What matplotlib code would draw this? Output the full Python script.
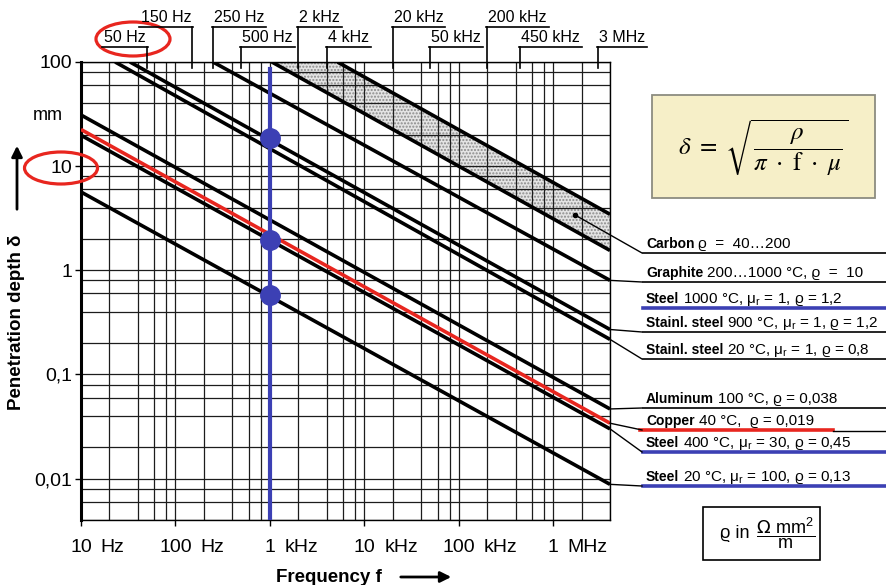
import matplotlib
matplotlib.use('Agg')
import matplotlib.pyplot as plt
from matplotlib.lines import Line2D
from matplotlib.patches import Ellipse, Rectangle
from matplotlib.ticker import LogLocator, NullFormatter

plt.rcParams['font.family'] = ['Liberation Sans', 'DejaVu Sans']

# material lines, start and end point (frequency in Hz, depth in mm)
materials = ['Carbon rho=200', 'Carbon rho=40', 'Graphite', 'Steel 1000 / Stainl. 900',
             'Stainl. steel 20', 'Aluminum', 'Copper', 'Steel 400', 'Steel 20']
start_f = [5200, 1050, 250, 33, 23, 10, 10, 10, 10]
start_d = [100, 100, 100, 100, 100, 31, 22.5, 19.8, 5.65]
end_f = [4e6, 4e6, 4e6, 4e6, 4e6, 4e6, 4e6, 4e6, 4e6]
end_d = [3.45, 1.55, 0.80, 0.27, 0.217, 0.0466, 0.034, 0.030, 0.0088]

# marked frequency 1 kHz and the three points on it
mark_f = 1000
mark_top = 85
dot_d = [18.5, 1.95, 0.58]
carbon_dot = (1.7e6, 3.4)

# axis labels
x_ticks = [10, 100, 1e3, 1e4, 1e5, 1e6]
x_nums = ['10', '100', '1', '10', '100', '1']
x_units = ['Hz', 'Hz', 'kHz', 'kHz', 'kHz', 'MHz']
y_ticks = [100, 10, 1, 0.1, 0.01]
y_labels = ['100', '10', '1', '0,1', '0,01']

top_f = [50, 150, 250, 500, 2000, 4000, 20000, 50000, 200000, 450000, 3e6]
top_text = ['50 Hz', '150 Hz', '250 Hz', '500 Hz', '2 kHz', '4 kHz',
            '20 kHz', '50 kHz', '200 kHz', '450 kHz', '3 MHz']
top_row = [1, 0, 0, 1, 0, 1, 0, 1, 0, 1, 1]

label_bold = ['Carbon', 'Graphite', 'Steel', 'Stainl. steel', 'Stainl. steel',
              'Aluminum', 'Copper', 'Steel', 'Steel']
label_rest = ['ϱ  =  40…200',
              '200…1000 °C, ϱ  =  10',
              '1000 °C, μ$_{\\mathregular{r}}$ = 1, ϱ = 1,2',
              '900 °C, μ$_{\\mathregular{r}}$ = 1, ϱ = 1,2',
              '20 °C, μ$_{\\mathregular{r}}$ = 1, ϱ = 0,8',
              '100 °C, ϱ = 0,038',
              '40 °C,  ϱ = 0,019',
              '400 °C, μ$_{\\mathregular{r}}$ = 30, ϱ = 0,45',
              '20 °C, μ$_{\\mathregular{r}}$ = 100, ϱ = 0,13']

W, H = 886, 585
BLUE = '#3c40b4'
RED = '#e8261f'

fig = plt.figure(figsize=(W / 100, H / 100), dpi=100)
ax = fig.add_axes([81 / W, 1 - 520 / H, (610 - 81) / W, (520 - 62) / H])
ax.set_xscale('log')
ax.set_yscale('log')
ax.set_xlim(10, 4e6)
ax.set_ylim(0.004, 100)

ax.xaxis.set_major_locator(LogLocator(base=10, numticks=20))
ax.xaxis.set_minor_locator(LogLocator(base=10, subs=(2, 4, 6, 8), numticks=20))
ax.yaxis.set_minor_locator(LogLocator(base=10, subs=(2, 4, 6, 8), numticks=20))
ax.xaxis.set_minor_formatter(NullFormatter())
ax.yaxis.set_minor_formatter(NullFormatter())
ax.set_yticks(y_ticks)
ax.set_yticklabels(y_labels, fontsize=14)
ax.tick_params(axis='x', which='major', labelbottom=False, length=4.5, width=1)
ax.tick_params(axis='y', which='major', length=4.5, width=1, pad=2)
ax.tick_params(which='minor', length=0)
ax.grid(which='both', color='#1c1c1c', lw=0.9)
for s in ax.spines.values():
    s.set_linewidth(1.0)
ax.spines['left'].set_linewidth(2.2)

def fx(x):
    return x / W

def fy(y):
    return 1 - y / H

def fig_line(xs, ys, **kw):
    fig.add_artist(Line2D([fx(x) for x in xs], [fy(y) for y in ys],
                          transform=fig.transFigure, **kw))

def to_px(f, d):
    x, y = ax.transData.transform((f, d))
    return x, H - y

# carbon band
ax.fill([start_f[1], start_f[0], end_f[0], end_f[1]],
        [start_d[1], start_d[0], end_d[0], end_d[1]],
        facecolor='#e4e4e4', hatch='.....', edgecolor='#8a8a8a', lw=0, zorder=1)

for i in range(len(materials)):
    c = RED if materials[i] == 'Copper' else 'black'
    ax.plot([start_f[i], end_f[i]], [start_d[i], end_d[i]], color=c, lw=2.6,
            solid_capstyle='butt', zorder=3)

ax.plot([mark_f, mark_f], [mark_top, 0.004], color=BLUE, lw=3, zorder=4)
ax.plot([mark_f] * len(dot_d), dot_d, 'o', color=BLUE, ms=14, zorder=5)
ax.plot([carbon_dot[0]], [carbon_dot[1]], 'o', color='black', ms=3, zorder=5)

r = fig.canvas.get_renderer()

# bottom frequency labels
for f, n, u in zip(x_ticks, x_nums, x_units):
    x, _ = to_px(f, 1)
    t = fig.text(fx(x), fy(548), n, fontsize=14, ha='center', va='center')
    w = t.get_window_extent(r).width
    fig.text(fx(x + w / 2 + 9), fy(548), u, fontsize=14, ha='left', va='center')

# top frequency labels with brackets
for f, s, row in zip(top_f, top_text, top_row):
    x, _ = to_px(f, 1)
    yb = 22 if row == 0 else 42
    yl = yb + 5
    if f < 200:
        t = fig.text(fx(x - 1), fy(yb), s, fontsize=11.5, ha='right', va='baseline')
    else:
        t = fig.text(fx(x + 1), fy(yb), s, fontsize=11.5, ha='left', va='baseline')
    bb = t.get_window_extent(r)
    fig_line([bb.x0 - 2, bb.x1 + 2], [yl, yl], color='black', lw=1.2)
    fig_line([x, x], [yl, 68], color='black', lw=1.2)

# axis titles
fig.text(fx(17), fy(322), 'Penetration depth δ', rotation=90, fontsize=13.5,
         fontweight='bold', ha='center', va='center')
ax.annotate('', xy=(fx(17), fy(143)), xycoords='figure fraction',
            xytext=(fx(17), fy(212)), textcoords='figure fraction',
            arrowprops=dict(arrowstyle='-|>', lw=2, color='black', mutation_scale=16),
            annotation_clip=False)
fig.text(fx(329), fy(577), 'Frequency f', fontsize=13.5, fontweight='bold',
         ha='center', va='center')
ax.annotate('', xy=(fx(454), fy(577)), xycoords='figure fraction',
            xytext=(fx(398), fy(577)), textcoords='figure fraction',
            arrowprops=dict(arrowstyle='-|>', lw=2, color='black', mutation_scale=16),
            annotation_clip=False)
fig.text(fx(48), fy(115), 'mm', fontsize=13, ha='center', va='center')

# red highlight ellipses
fig.add_artist(Ellipse((fx(61), fy(168)), 73 / W, 32 / H, transform=fig.transFigure,
                       fill=False, ec=RED, lw=2.3))
fig.add_artist(Ellipse((fx(133), fy(39)), 74 / W, 34 / H, transform=fig.transFigure,
                       fill=False, ec=RED, lw=2.3))

# right-hand labels
ul_y = [253, 282, 308, 332, 359, 408, 430, 452, 486]
ul_color = ['black', 'black', BLUE, 'black', 'black', 'black', RED, BLUE, BLUE]
for i, (b, rest) in enumerate(zip(label_bold, label_rest)):
    yb = ul_y[i] - 5
    t = fig.text(fx(646), fy(yb), b, fontsize=10, fontweight='bold', va='baseline')
    w = t.get_window_extent(r).width
    fig.text(fx(646 + w + 4), fy(yb), rest, fontsize=11, va='baseline')
    c = ul_color[i]
    if c == RED:
        fig_line([640, 833], [ul_y[i], ul_y[i]], color=RED, lw=2.6)
        fig_line([833, W], [ul_y[i] + 1, ul_y[i] + 1], color='black', lw=1)
    elif c == BLUE:
        fig_line([643, W], [ul_y[i], ul_y[i]], color=BLUE, lw=2.6)
    else:
        fig_line([643, W], [ul_y[i], ul_y[i]], color='black', lw=1.2)

# leader lines from the chart to the labels
leaders = [(carbon_dot, 0), ((end_f[2], end_d[2]), 1), ((end_f[3], end_d[3]), 3),
           ((end_f[4], end_d[4]), 4), ((end_f[5], end_d[5]), 5), ((end_f[6], end_d[6]), 6),
           ((end_f[7], end_d[7]), 7), ((end_f[8], end_d[8]), 8)]
for (f, d), k in leaders:
    x0, y0 = to_px(f, d)
    fig_line([x0, 642], [y0, ul_y[k]], color='black', lw=1)

# formula box
fig.add_artist(Rectangle((fx(652), fy(198)), (875 - 652) / W, (198 - 95) / H,
                         transform=fig.transFigure, fc='#f6efc8', ec='#8c8c80', lw=1.3))
fig.text(fx(763), fy(148), r'$\delta\ =\ \sqrt{\dfrac{\rho}{\pi\ \cdot\ \mathrm{f}\ \cdot\ \mu}}$',
         fontsize=18, ha='center', va='center', math_fontfamily='stix')

# unit box
fig.add_artist(Rectangle((fx(703), fy(560)), (820 - 703) / W, (560 - 507) / H,
                         transform=fig.transFigure, fc='white', ec='black', lw=1.2))
fig.text(fx(735), fy(534), 'ϱ in', fontsize=13, ha='center', va='center')
fig.text(fx(786), fy(533), r'$\dfrac{\Omega\ \mathregular{mm^2}}{\mathregular{m}}$',
         fontsize=13, ha='center', va='center')

fig.savefig('out.png', dpi=100)
